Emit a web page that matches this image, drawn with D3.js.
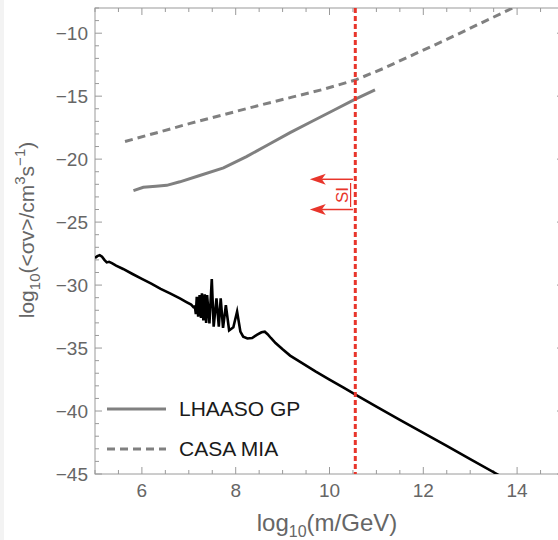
<!DOCTYPE html>
<html>
<head>
<meta charset="utf-8">
<script src="https://cdn.jsdelivr.net/npm/d3@7"></script>
<style>
  html, body { margin: 0; padding: 0; background: #ffffff; }
  svg { display: block; }
  text { font-family: "Liberation Sans", Arial, Helvetica, sans-serif; }
</style>
</head>
<body>
<svg id="chart" width="558" height="540"></svg>
<script>
// ---------- data ----------
const xDomain = [5, 15];
const yDomain = [-45, -8];
const xTicks = [6, 8, 10, 12, 14];
const yTicks = [-45, -40, -35, -30, -25, -20, -15, -10];

const bgX = [5.0, 5.05, 5.1, 5.15, 5.2, 5.25, 5.3, 5.36, 5.45, 5.6, 5.8, 6.0, 6.2, 6.4, 6.6, 6.81, 6.95, 7.05, 7.1, 7.13,
  7.15, 7.17, 7.2, 7.23, 7.26, 7.28, 7.31, 7.34, 7.37, 7.39, 7.44, 7.49, 7.53, 7.59, 7.64, 7.68, 7.73, 7.79, 7.86, 7.95, 8.03,
  8.1, 8.16, 8.25, 8.35, 8.45, 8.55, 8.62, 8.68, 8.75, 8.85, 9.0, 9.16, 9.4, 9.7, 10.0, 10.3, 10.6, 11.0, 11.5, 12.0, 12.5, 13.0, 13.57, 13.7];
const bgY = [-27.85, -27.7, -27.62, -27.75, -28.0, -28.2, -28.15, -28.25, -28.45, -28.72, -29.12, -29.5, -29.88, -30.3, -30.66, -31.06, -31.35, -31.55, -31.75, -31.7,
  -32.3, -30.93, -32.5, -30.8, -32.6, -30.66, -32.8, -30.74, -33.0, -30.8, -33.05, -29.53, -33.3, -31.06, -33.3, -31.06, -33.4, -31.6, -33.6, -33.35, -32.1,
  -33.7, -34.1, -34.24, -34.2, -33.95, -33.75, -33.7, -33.9, -34.2, -34.6, -35.1, -35.6, -36.15, -36.85, -37.5, -38.15, -38.8, -39.65, -40.7, -41.73, -42.77, -43.81, -45.0, -45.3];

const lhaasoX = [5.82, 6.03, 6.3, 6.53, 6.81, 7.2, 7.74, 8.23, 8.7, 9.16, 9.6, 10.1, 10.54, 10.97];
const lhaasoY = [-22.5, -22.24, -22.15, -22.08, -21.8, -21.34, -20.7, -19.8, -18.84, -17.9, -17.05, -16.1, -15.25, -14.5];

const casaX = [5.64, 6.3, 7.03, 7.7, 8.45, 9.2, 9.87, 10.55, 11.15, 11.8, 12.5, 13.2, 13.85, 13.95];
const casaY = [-18.6, -17.92, -17.16, -16.51, -15.78, -15.08, -14.46, -13.72, -12.8, -11.68, -10.5, -9.25, -8.1, -7.9];

const siMass = 10.55;          // red vertical line
const arrowY = [-21.6, -24.0]; // arrows pointing left
const arrowFrom = 10.5, arrowTo = 9.58;

const legendNames = ["LHAASO GP", "CASA MIA"];

// ---------- layout ----------
const svg = d3.select("#chart");
const x = d3.scaleLinear().domain(xDomain).range([95, 564]);
const y = d3.scaleLinear().domain(yDomain).range([474, 8]);

const frameCol = "#9a9a9a";
const textCol = "#666666";
const red = "#e8352b";

// faint left strip like the reference
svg.append("rect").attr("x", 0).attr("y", 0).attr("width", 4).attr("height", 540).attr("fill", "#f3f3f3");

svg.append("defs").append("clipPath").attr("id", "clip")
  .append("rect").attr("x", x(5)).attr("y", y(-8)).attr("width", x(15) - x(5)).attr("height", y(-45) - y(-8));

// frame
const frame = svg.append("g");
frame.append("rect").attr("x", x(5)).attr("y", y(-8)).attr("width", x(15) - x(5)).attr("height", y(-45) - y(-8))
  .attr("fill", "none").attr("stroke", frameCol).attr("stroke-width", 1);

// ticks (inward on all sides)
const xMinor = d3.range(5, 15.01, 0.5).filter(v => !xTicks.includes(v));
const yMinor = d3.range(-45, -7.99, 1).filter(v => !yTicks.includes(v));
function xt(vals, len) {
  vals.forEach(v => {
    frame.append("line").attr("x1", x(v)).attr("x2", x(v)).attr("y1", y(-45)).attr("y2", y(-45) - len).attr("stroke", frameCol);
    frame.append("line").attr("x1", x(v)).attr("x2", x(v)).attr("y1", y(-8)).attr("y2", y(-8) + len).attr("stroke", frameCol);
  });
}
function yt(vals, len) {
  vals.forEach(v => {
    frame.append("line").attr("y1", y(v)).attr("y2", y(v)).attr("x1", x(5)).attr("x2", x(5) + len).attr("stroke", frameCol);
    frame.append("line").attr("y1", y(v)).attr("y2", y(v)).attr("x1", x(15)).attr("x2", x(15) - len).attr("stroke", frameCol);
  });
}
xt(xTicks, 7); xt(xMinor, 4);
yt(yTicks, 7); yt(yMinor, 4);

// tick labels
const fmt = v => (v < 0 ? "\u2212" + Math.abs(v) : String(v));
svg.append("g").selectAll("text").data(xTicks).join("text")
  .attr("x", d => x(d)).attr("y", 497).attr("text-anchor", "middle")
  .attr("font-size", 19).attr("fill", textCol).text(fmt);
svg.append("g").selectAll("text").data(yTicks).join("text")
  .attr("x", 88).attr("y", d => y(d) + 7).attr("text-anchor", "end")
  .attr("font-size", 19).attr("fill", textCol).text(fmt);

// axis titles
const xt1 = svg.append("text").attr("x", 327).attr("y", 531).attr("text-anchor", "middle")
  .attr("font-size", 24).attr("fill", textCol);
xt1.append("tspan").text("log");
xt1.append("tspan").attr("font-size", 16).attr("dy", 6).text("10");
xt1.append("tspan").attr("dy", -6).text("(m/GeV)");

const yt1 = svg.append("text").attr("transform", "translate(34,230) rotate(-90)").attr("text-anchor", "middle")
  .attr("font-size", 21).attr("fill", textCol);
yt1.append("tspan").text("log");
yt1.append("tspan").attr("font-size", 15).attr("dy", 6).text("10");
yt1.append("tspan").attr("dy", -6).text("(<\u03c3v>/cm");
yt1.append("tspan").attr("font-size", 15).attr("dy", -9).text("3");
yt1.append("tspan").attr("dy", 9).text("s");
yt1.append("tspan").attr("font-size", 15).attr("dy", -9).text("\u22121");
yt1.append("tspan").attr("dy", 9).text(")");

// ---------- marks ----------
const plot = svg.append("g").attr("clip-path", "url(#clip)");
const line = d3.line().x(d => x(d[0])).y(d => y(d[1]));

plot.append("path").datum(d3.zip(casaX, casaY)).attr("d", line)
  .attr("fill", "none").attr("stroke", "#808080").attr("stroke-width", 3).attr("stroke-dasharray", "8,5");
plot.append("path").datum(d3.zip(lhaasoX, lhaasoY)).attr("d", line)
  .attr("fill", "none").attr("stroke", "#808080").attr("stroke-width", 3);
plot.append("path").datum(d3.zip(bgX, bgY)).attr("d", line)
  .attr("fill", "none").attr("stroke", "#000").attr("stroke-width", 2.6).attr("stroke-linejoin", "miter").attr("stroke-miterlimit", 6);

// red vertical line
plot.append("line").attr("x1", x(siMass)).attr("x2", x(siMass)).attr("y1", y(-8)).attr("y2", y(-45))
  .attr("stroke", red).attr("stroke-width", 3).attr("stroke-dasharray", "5,3");

// arrows
arrowY.forEach(v => {
  plot.append("line").attr("x1", x(arrowFrom)).attr("x2", x(arrowTo) + 12).attr("y1", y(v)).attr("y2", y(v))
    .attr("stroke", red).attr("stroke-width", 1.5);
  const tx = x(arrowTo), ty = y(v);
  plot.append("path").attr("d", `M${tx},${ty} L${tx + 16},${ty - 5.5} L${tx + 12},${ty} L${tx + 16},${ty + 5.5} Z`)
    .attr("fill", red);
});
// SI label
plot.append("line").attr("x1", x(10.45)).attr("x2", x(10.45)).attr("y1", y(-21.9)).attr("y2", y(-23.8))
  .attr("stroke", red).attr("stroke-width", 1.2);
plot.append("text").attr("transform", `translate(${x(10.42) - 1},${(y(-21.9) + y(-23.8)) / 2}) rotate(-90)`)
  .attr("text-anchor", "middle").attr("font-size", 17).attr("fill", red).text("SI");

// legend
const lg = svg.append("g");
const legY = [409, 449];
lg.append("line").attr("x1", 107).attr("x2", 166).attr("y1", legY[0]).attr("y2", legY[0])
  .attr("stroke", "#808080").attr("stroke-width", 3);
lg.append("line").attr("x1", 107).attr("x2", 166).attr("y1", legY[1]).attr("y2", legY[1])
  .attr("stroke", "#808080").attr("stroke-width", 3).attr("stroke-dasharray", "8,5");
lg.selectAll("text").data(legendNames).join("text")
  .attr("x", 179).attr("y", (d, i) => legY[i] + 7).attr("font-size", 21).attr("fill", "#1a1a1a").text(d => d);
</script>
</body>
</html>
